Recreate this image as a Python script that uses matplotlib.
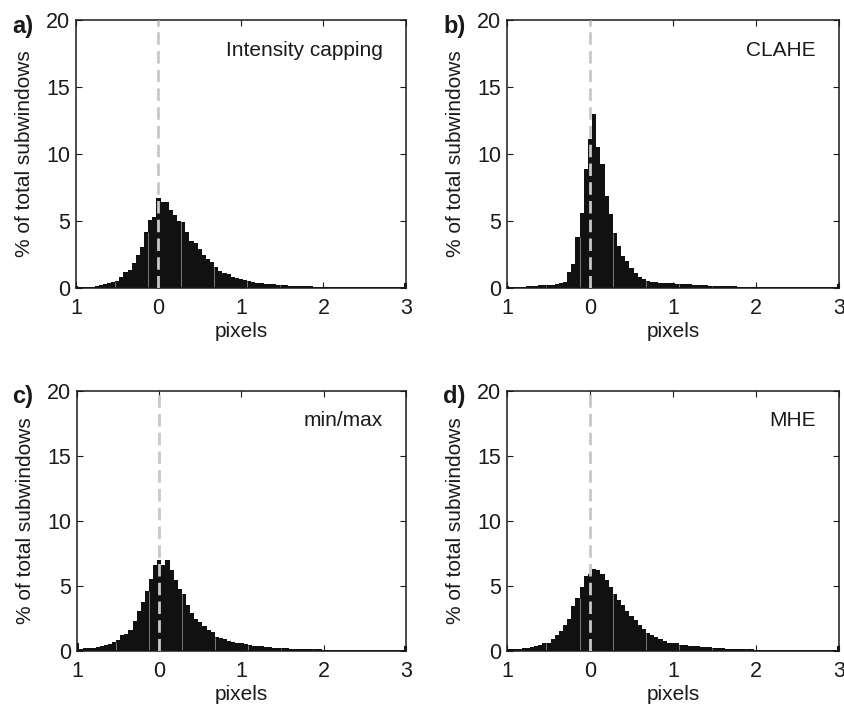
import numpy as np
import matplotlib
matplotlib.use("Agg")
import matplotlib.pyplot as plt

plt.rcParams['font.family'] = ['Liberation Sans', 'DejaVu Sans']
plt.rcParams['lines.scale_dashes'] = False

# bin centres of the histograms (pixels)
bin_start = -1.0
bin_step = 0.05
n_bins = 81

# % of total subwindows per bin
intensity_capping = [
    0.15, 0.10, 0.08, 0.08, 0.10, 0.15, 0.20, 0.28, 0.35, 0.47,
    0.55, 0.85, 1.20, 1.35, 1.85, 2.45, 3.05, 4.15, 5.10, 5.30,
    6.70, 6.45, 6.45, 5.80, 5.45, 5.00, 4.90, 4.20, 3.50, 3.35,
    2.90, 2.50, 2.15, 1.95, 1.55, 1.30, 1.10, 1.05, 0.85, 0.75,
    0.65, 0.60, 0.50, 0.42, 0.40, 0.35, 0.32, 0.30, 0.28, 0.25,
    0.22, 0.22, 0.18, 0.16, 0.15, 0.13, 0.12, 0.12, 0.10, 0.10,
    0.10, 0.09, 0.08, 0.08, 0.07, 0.07, 0.06, 0.06, 0.06, 0.05,
    0.05, 0.05, 0.05, 0.04, 0.04, 0.04, 0.04, 0.04, 0.04, 0.04,
    0.40]
clahe = [
    0.15, 0.10, 0.10, 0.10, 0.10, 0.15, 0.15, 0.15, 0.20, 0.20,
    0.25, 0.25, 0.30, 0.35, 0.47, 1.17, 1.80, 3.80, 5.60, 8.85,
    11.10, 13.00, 10.50, 9.25, 6.90, 5.50, 4.10, 3.15, 2.40, 2.00,
    1.47, 1.10, 0.85, 0.67, 0.52, 0.47, 0.42, 0.40, 0.35, 0.35,
    0.40, 0.32, 0.30, 0.28, 0.27, 0.25, 0.22, 0.20, 0.20, 0.18,
    0.16, 0.15, 0.14, 0.13, 0.12, 0.12, 0.11, 0.10, 0.10, 0.09,
    0.09, 0.08, 0.08, 0.08, 0.08, 0.07, 0.07, 0.07, 0.07, 0.07,
    0.06, 0.06, 0.06, 0.06, 0.06, 0.06, 0.06, 0.06, 0.06, 0.06,
    0.30]
min_max = [
    0.58, 0.15, 0.20, 0.20, 0.25, 0.30, 0.35, 0.45, 0.55, 0.70,
    0.85, 1.20, 1.30, 1.60, 2.30, 3.05, 3.75, 4.65, 5.55, 6.65,
    7.00, 6.60, 7.00, 6.25, 5.45, 4.80, 4.35, 3.55, 2.90, 2.50,
    2.25, 1.95, 1.65, 1.45, 1.10, 1.00, 0.90, 0.80, 0.72, 0.65,
    0.60, 0.55, 0.50, 0.42, 0.38, 0.35, 0.32, 0.30, 0.25, 0.23,
    0.21, 0.20, 0.18, 0.17, 0.16, 0.15, 0.14, 0.13, 0.12, 0.12,
    0.11, 0.10, 0.10, 0.09, 0.09, 0.08, 0.08, 0.08, 0.08, 0.07,
    0.07, 0.07, 0.07, 0.07, 0.06, 0.06, 0.06, 0.06, 0.06, 0.06,
    0.38]
mhe = [
    0.15, 0.12, 0.15, 0.18, 0.20, 0.25, 0.30, 0.38, 0.48, 0.60,
    0.65, 0.90, 1.20, 1.55, 2.00, 2.50, 3.45, 4.05, 4.95, 5.80,
    5.95, 6.30, 6.20, 5.95, 5.45, 4.95, 4.35, 3.90, 3.55, 3.10,
    2.70, 2.35, 2.00, 1.70, 1.40, 1.25, 1.10, 0.95, 0.80, 0.65,
    0.62, 0.58, 0.48, 0.45, 0.42, 0.38, 0.35, 0.32, 0.30, 0.28,
    0.24, 0.22, 0.20, 0.19, 0.17, 0.16, 0.14, 0.13, 0.12, 0.12,
    0.11, 0.10, 0.10, 0.09, 0.09, 0.08, 0.08, 0.08, 0.08, 0.07,
    0.07, 0.07, 0.07, 0.07, 0.06, 0.06, 0.06, 0.06, 0.06, 0.06,
    0.38]

panel_letters = ["a)", "b)", "c)", "d)"]
method_names = ["Intensity capping", "CLAHE", "min/max", "MHE"]
series = [intensity_capping, clahe, min_max, mhe]

x_ticks = [-1, 0, 1, 2, 3]
x_tick_labels = ["1", "0", "1", "2", "3"]
y_ticks = [0, 5, 10, 15, 20]
y_tick_labels = ["0", "5", "10", "15", "20"]

W, H = 845, 704
fig = plt.figure(figsize=(W / 100, H / 100), dpi=100)

# axes boxes in pixels: left, right, top, bottom
boxes = [(76, 406, 20, 288), (507, 839, 20, 288),
         (77, 406, 391, 651), (507, 839, 391, 651)]

centres = bin_start + bin_step * np.arange(n_bins)
bar_color = "#111111"
ink = "#1a1a1a"

for i, (box, vals) in enumerate(zip(boxes, series)):
    l, r, t, b = box
    ax = fig.add_axes([l / W, 1 - b / H, (r - l) / W, (b - t) / H])
    vals = np.asarray(vals)
    ax.bar(centres, vals, width=bin_step, color=bar_color,
           edgecolor="none", align="center", zorder=2)
    # faint seams between some bars (rendering seams in the original)
    seam_idx = np.arange(9, n_bins - 1, 8)
    seam_x = centres[seam_idx] + bin_step / 2
    seam_h = np.minimum(vals[seam_idx], vals[seam_idx + 1])
    ax.vlines(seam_x, 0, seam_h, color="#8a8a8a", lw=0.6, zorder=2.5)
    ax.axvline(0, color="#c8c8c8", lw=2.0, ls=(0, (9, 4.5)), zorder=3)
    ax.set_xlim(-1, 3)
    ax.set_ylim(0, 20)
    ax.set_xticks(x_ticks)
    ax.set_xticklabels(x_tick_labels)
    ax.set_yticks(y_ticks)
    ax.set_yticklabels(y_tick_labels)
    ax.tick_params(direction="in", length=4, width=0.8, labelsize=15.5,
                   top=True, right=True, colors=ink)
    ax.tick_params(axis="x", pad=7)
    ax.tick_params(axis="y", pad=4)
    for s in ax.spines.values():
        s.set_linewidth(1.1)
        s.set_color(ink)
    ax.set_xlabel("pixels", fontsize=15, labelpad=2, color=ink)
    ax.set_ylabel("% of total subwindows", fontsize=15, labelpad=9,
                  color=ink)
    ax.text(2.72, 17.3, method_names[i], ha="right", va="baseline",
            fontsize=15, color=ink)
    # panel letter
    lx = 12 if i % 2 == 0 else 443
    ly = 27 if i < 2 else 396
    fig.text(lx / W, 1 - ly / H, panel_letters[i], ha="left", va="center",
             fontsize=17, fontweight="bold", color=ink)

fig.savefig("out.png", dpi=100)
